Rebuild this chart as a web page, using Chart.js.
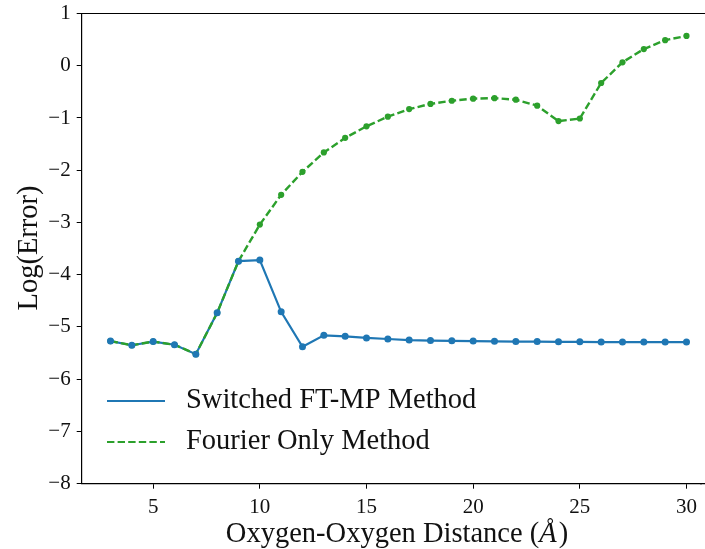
<!DOCTYPE html>
<html>
<head>
<meta charset="utf-8">
<script src="https://cdn.jsdelivr.net/npm/chart.js@4/dist/chart.umd.min.js"></script>
<style>
  html, body { margin: 0; padding: 0; background: #fff; overflow: hidden; }
  #wrap { position: relative; width: 705px; height: 549px; }
</style>
</head>
<body>
<div id="wrap"><canvas id="c" width="705" height="549"></canvas></div>
<script>
// Oxygen-oxygen separation (Å)
const distances = [3,4,5,6,7,8,9,10,11,12,13,14,15,16,17,18,19,20,21,22,23,24,25,26,27,28,29,30];

// log10 of the error for the switched FT-MP method
const switchedError = [-5.27,-5.35,-5.28,-5.34,-5.52,-4.73,-3.74,-3.72,-4.71,-5.38,-5.16,-5.18,-5.21,-5.23,
  -5.25,-5.26,-5.265,-5.27,-5.275,-5.28,-5.28,-5.285,-5.285,-5.29,-5.29,-5.29,-5.29,-5.29];

// log10 of the error for the Fourier-only method
const fourierError = [-5.27,-5.35,-5.28,-5.34,-5.52,-4.73,-3.74,-3.04,-2.47,-2.03,-1.66,-1.38,-1.16,-0.975,
  -0.83,-0.73,-0.67,-0.63,-0.62,-0.65,-0.765,-1.06,-1.01,-0.33,0.066,0.32,0.49,0.57];

const xTicks = [5,10,15,20,25,30];
const yTicks = [-8,-7,-6,-5,-4,-3,-2,-1,0,1];

const seriesNames = ['Switched FT-MP Method', 'Fourier Only Method'];

const BLUE = '#1f77b4';
const GREEN = '#2ca02c';
const FONT = '"Liberation Serif", "DejaVu Serif", serif';
const TITLE_SIZE = 28.5;

const pts = (ys) => distances.map((x, i) => ({ x: x, y: ys[i] }));
const fmt = (v) => (v < 0 ? '\u2212' + Math.abs(v) : String(v));

// Let the layout padding alone decide the plot box (no room kept for label overhang)
const noOverhang = (s) => {
  s.paddingTop = 0; s.paddingBottom = 0; s.paddingLeft = 0; s.paddingRight = 0;
};

// Frame, legend and axis titles drawn directly on the canvas
const decorations = {
  id: 'decorations',
  afterDraw(chart) {
    const { ctx, chartArea: a } = chart;
    const f = (style) => style + TITLE_SIZE + 'px ' + FONT;
    ctx.save();
    // top and bottom spines run on past the right edge of the view
    ctx.strokeStyle = '#000';
    ctx.lineWidth = 1.2;
    ctx.beginPath();
    ctx.moveTo(a.left, a.top);
    ctx.lineTo(chart.width, a.top);
    ctx.moveTo(a.right - 1, a.bottom);
    ctx.lineTo(chart.width, a.bottom);
    ctx.stroke();

    // legend
    ctx.lineWidth = 2.2;
    ctx.strokeStyle = BLUE;
    ctx.beginPath(); ctx.moveTo(107, 401); ctx.lineTo(165, 401); ctx.stroke();
    ctx.strokeStyle = GREEN;
    ctx.setLineDash([7.4, 3.2]);
    ctx.beginPath(); ctx.moveTo(107, 442); ctx.lineTo(165, 442); ctx.stroke();
    ctx.setLineDash([]);
    ctx.fillStyle = '#111';
    ctx.font = f('');
    ctx.textBaseline = 'middle';
    ctx.textAlign = 'left';
    ctx.fillText(seriesNames[0], 186, 401);
    ctx.fillText(seriesNames[1], 186, 442);

    // x-axis title with italic Å
    const cx = 396;
    const y = 535;
    const p1 = 'Oxygen-Oxygen Distance (';
    const p2 = 'Å';
    const p3 = ')';
    ctx.font = f('');
    const w1 = ctx.measureText(p1).width;
    const w3 = ctx.measureText(p3).width;
    ctx.font = f('italic ');
    const w2 = ctx.measureText(p2).width;
    const x = cx - (w1 + w2 + w3) / 2;
    ctx.font = f('');
    ctx.fillText(p1, x, y);
    ctx.font = f('italic ');
    ctx.fillText(p2, x + w1, y);
    ctx.font = f('');
    ctx.fillText(p3, x + w1 + w2 + 2, y);

    // y-axis title
    ctx.translate(30, 248);
    ctx.rotate(-Math.PI / 2);
    ctx.textAlign = 'center';
    ctx.fillText('Log(Error)', 0, 0);
    ctx.restore();
  }
};

new Chart(document.getElementById('c'), {
  type: 'line',
  data: {
    datasets: [
      {
        label: seriesNames[0] + ' markers',
        data: pts(switchedError),
        showLine: false,
        pointRadius: 3.5,
        pointBackgroundColor: BLUE,
        pointBorderColor: BLUE,
        pointBorderWidth: 0,
        order: 0
      },
      {
        label: seriesNames[1],
        data: pts(fourierError),
        borderColor: GREEN,
        borderWidth: 2.4,
        borderDash: [7.4, 3.2],
        pointRadius: 3.1,
        pointBackgroundColor: GREEN,
        pointBorderWidth: 0,
        tension: 0,
        order: 1
      },
      {
        label: seriesNames[0],
        data: pts(switchedError),
        borderColor: BLUE,
        borderWidth: 2.2,
        pointRadius: 0,
        tension: 0,
        order: 2
      }
    ]
  },
  options: {
    responsive: false,
    animation: false,
    events: [],
    layout: { padding: { top: 13.5, right: 0, left: 0, bottom: 0 } },
    plugins: { legend: { display: false }, tooltip: { enabled: false } },
    scales: {
      x: {
        type: 'linear',
        min: 1.65,
        max: 30.68,
        afterBuildTicks: (s) => { s.ticks = xTicks.map(v => ({ value: v })); },
        afterFit: (s) => { s.height = 65.3; noOverhang(s); },
        grid: { drawOnChartArea: false, tickLength: 5, color: '#000', lineWidth: 1 },
        border: { display: true, color: '#000', width: 1.2 },
        ticks: {
          color: '#111',
          font: { family: FONT, size: 21 },
          padding: 6,
          maxRotation: 0,
          callback: (v) => fmt(v)
        }
      },
      y: {
        type: 'linear',
        min: -8,
        max: 1,
        afterBuildTicks: (s) => { s.ticks = yTicks.map(v => ({ value: v })); },
        afterFit: (s) => { s.width = 81.7; noOverhang(s); },
        grid: { drawOnChartArea: false, tickLength: 5, color: '#000', lineWidth: 1 },
        border: { display: true, color: '#000', width: 1.2 },
        ticks: {
          color: '#111',
          font: { family: FONT, size: 21 },
          padding: 6,
          callback: (v) => fmt(v)
        }
      }
    }
  },
  plugins: [decorations]
});
</script>
</body>
</html>
